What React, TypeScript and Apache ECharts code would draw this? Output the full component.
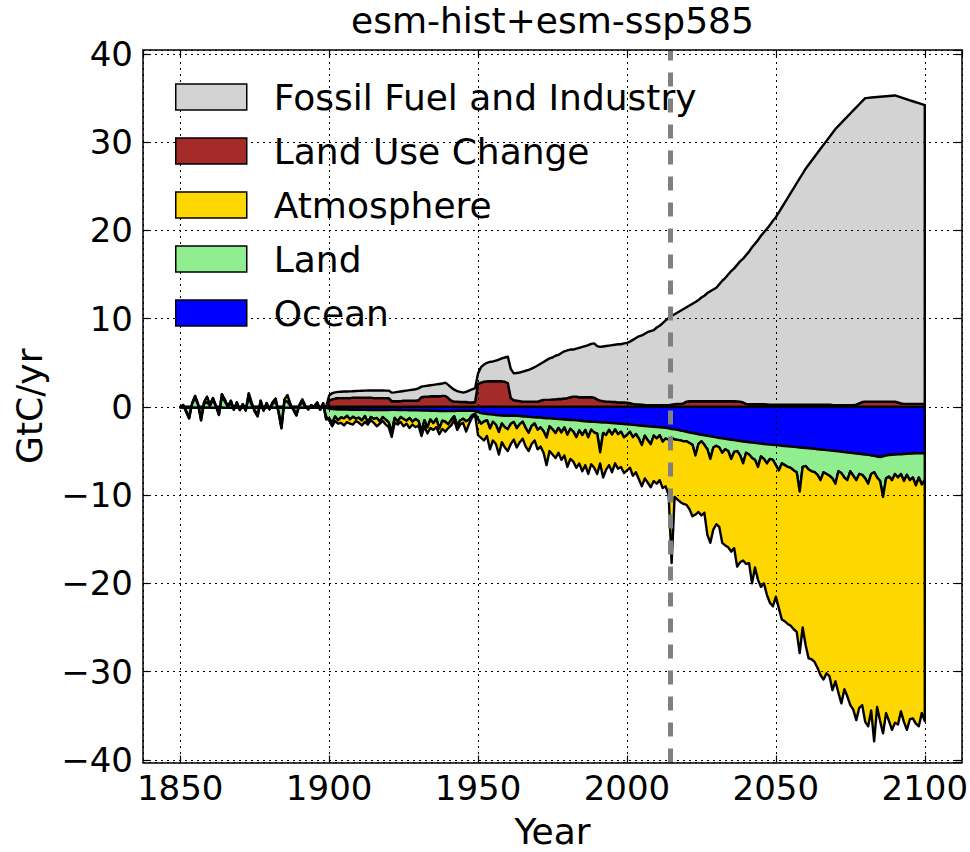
import React, { useEffect, useRef } from "react";
import * as echarts from "echarts";

const FONT = "DejaVu Sans";

const firstYear = 1850;
const lastYear = 2100;
const years: number[] = [];
for (let y = firstYear; y <= lastYear; y++) years.push(y);

const titleText = "esm-hist+esm-ssp585";
const xAxisName = "Year";
const yAxisName = "GtC/yr";
const scenarioStart = 2014.5;

const landUseChange = [
  // 1850-1899
  0, 0, 0, 0, 0, 0, 0, 0, 0, 0,
  0, 0, 0, 0, 0, 0, 0, 0, 0, 0,
  0, 0, 0, 0, 0, 0, 0, 0, 0, 0,
  0, 0, 0, 0, 0, 0, 0, 0, 0, 0,
  0, 0, 0, 0, 0, 0, 0, 0, 0, 0,
  // 1900-1949
  0.7, 0.85, 0.95, 1.0, 1.0, 1.0, 1.0, 1.0, 1.05, 1.05,
  1.05, 1.05, 1.05, 1.05, 1.05, 1.0, 1.0, 1.0, 1.0, 1.0,
  1.0, 0.65, 0.65, 0.65, 0.65, 0.7, 0.7, 0.7, 0.7, 0.7,
  0.75, 1.1, 1.15, 1.15, 1.2, 1.2, 1.2, 1.2, 1.25, 1.25,
  1.0, 0.7, 0.6, 0.6, 0.55, 0.55, 0.55, 0.5, 0.5, 0.55,
  // 1950-1999
  2.6, 2.75, 2.85, 2.9, 2.9, 2.9, 2.9, 2.9, 2.9, 2.85,
  2.7, 1.0, 0.75, 0.7, 0.65, 0.6, 0.6, 0.6, 0.6, 0.6,
  0.6, 0.7, 0.8, 0.8, 0.8, 0.85, 0.85, 0.9, 0.9, 0.95,
  1.0, 1.1, 1.15, 1.15, 1.1, 1.1, 1.1, 1.1, 1.1, 1.05,
  0.85, 0.7, 0.65, 0.6, 0.6, 0.55, 0.55, 0.5, 0.5, 0.5,
  // 2000-2049
  0.48, 0.42, 0.35, 0.3, 0.28, 0.25, 0.22, 0.2, 0.2, 0.2,
  0.2, 0.2, 0.2, 0.2, 0.2, 0.25, 0.3, 0.34, 0.34, 0.4,
  0.6, 0.64, 0.64, 0.64, 0.64, 0.64, 0.64, 0.64, 0.64, 0.64,
  0.64, 0.64, 0.64, 0.64, 0.64, 0.64, 0.64, 0.62, 0.6, 0.5,
  0.34, 0.3, 0.3, 0.3, 0.3, 0.3, 0.3, 0.28, 0.26, 0.26,
  // 2050-2100
  0.26, 0.26, 0.26, 0.26, 0.26, 0.26, 0.26, 0.26, 0.26, 0.26,
  0.26, 0.26, 0.26, 0.26, 0.26, 0.26, 0.26, 0.26, 0.26, 0.22,
  0.2, 0.2, 0.2, 0.2, 0.2, 0.2, 0.2, 0.25, 0.4, 0.55,
  0.6, 0.6, 0.6, 0.6, 0.6, 0.6, 0.6, 0.6, 0.6, 0.6,
  0.6, 0.5, 0.4, 0.34, 0.34, 0.34, 0.34, 0.34, 0.34, 0.34,
  0.34,
];

const fossilFuel = [
  // 1850-1899
  0, 0, 0, 0, 0, 0, 0, 0, 0, 0,
  0, 0, 0, 0, 0, 0, 0, 0, 0, 0,
  0, 0, 0, 0, 0, 0, 0, 0, 0, 0,
  0, 0, 0, 0, 0, 0, 0, 0, 0, 0,
  0, 0, 0, 0, 0, 0, 0, 0, 0, 0,
  // 1900-1949
  0.6, 0.7, 0.7, 0.7, 0.72, 0.74, 0.75, 0.76, 0.73, 0.75,
  0.77, 0.79, 0.8, 0.81, 0.81, 0.86, 0.86, 0.86, 0.86, 0.85,
  0.85, 0.97, 1.0, 1.05, 1.1, 1.1, 1.15, 1.2, 1.25, 1.3,
  1.35, 1.2, 1.2, 1.25, 1.25, 1.3, 1.35, 1.4, 1.4, 1.5,
  1.5, 1.5, 1.35, 1.2, 1.15, 1.07, 1.15, 1.35, 1.5, 1.55,
  // 1950-1999
  1.2, 1.75, 1.95, 2.1, 2.2, 2.25, 2.35, 2.45, 2.6, 2.75,
  3.0, 3.3, 3.05, 3.15, 3.25, 3.4, 3.5, 3.6, 3.75, 3.9,
  4.1, 4.2, 4.3, 4.5, 4.7, 4.75, 4.95, 5.0, 5.2, 5.35,
  5.4, 5.4, 5.35, 5.45, 5.6, 5.7, 5.8, 5.9, 6.05, 6.15,
  6.05, 6.1, 6.2, 6.3, 6.35, 6.45, 6.5, 6.6, 6.6, 6.7,
  // 2000-2049
  6.77, 6.98, 7.25, 7.5, 7.72, 7.85, 8.08, 8.3, 8.4, 8.5,
  8.8, 9.0, 9.3, 9.6, 9.9, 10.05, 10.2, 10.36, 10.56, 10.7,
  10.7, 10.86, 11.06, 11.26, 11.46, 11.76, 11.96, 12.26, 12.46, 12.66,
  12.86, 13.26, 13.66, 13.96, 14.36, 14.76, 15.06, 15.48, 15.9, 16.3,
  16.86, 17.3, 17.8, 18.2, 18.6, 19.1, 19.5, 19.92, 20.34, 20.84,
  // 2050-2100
  21.24, 21.79, 22.34, 22.89, 23.44, 23.99, 24.54, 25.09, 25.64, 26.19,
  26.74, 27.19, 27.64, 28.09, 28.54, 28.99, 29.44, 29.89, 30.34, 30.83,
  31.3, 31.65, 32.0, 32.35, 32.7, 33.05, 33.4, 33.7, 33.9, 34.1,
  34.4, 34.43, 34.46, 34.49, 34.52, 34.55, 34.58, 34.61, 34.64, 34.67,
  34.7, 34.69, 34.68, 34.63, 34.52, 34.41, 34.3, 34.19, 34.08, 33.97,
  33.86,
];

const ocean = [
  // 1850-1899
  -0.05, -0.08, -0.06, -0.1, -0.07, -0.05, -0.09, -0.12, -0.08, -0.06,
  -0.07, -0.1, -0.08, -0.11, -0.06, -0.09, -0.07, -0.1, -0.12, -0.08,
  -0.06, -0.09, -0.11, -0.07, -0.08, -0.1, -0.06, -0.09, -0.12, -0.07,
  -0.08, -0.1, -0.06, -0.09, -0.11, -0.07, -0.08, -0.1, -0.12, -0.06,
  -0.09, -0.07, -0.1, -0.08, -0.11, -0.06, -0.09, -0.12, -0.08, -0.1,
  // 1900-1949
  -0.2, -0.25, -0.28, -0.3, -0.3, -0.31, -0.31, -0.32, -0.32, -0.33,
  -0.33, -0.34, -0.34, -0.35, -0.35, -0.35, -0.35, -0.35, -0.35, -0.35,
  -0.35, -0.34, -0.34, -0.35, -0.35, -0.36, -0.36, -0.37, -0.37, -0.38,
  -0.39, -0.4, -0.41, -0.42, -0.43, -0.44, -0.45, -0.46, -0.47, -0.48,
  -0.48, -0.47, -0.46, -0.45, -0.44, -0.43, -0.43, -0.44, -0.45, -0.47,
  // 1950-1999
  -0.6, -0.7, -0.76, -0.8, -0.84, -0.88, -0.92, -0.95, -0.98, -1.0,
  -1.02, -1.02, -1.0, -1.02, -1.05, -1.08, -1.1, -1.13, -1.16, -1.18,
  -1.2, -1.22, -1.25, -1.28, -1.3, -1.33, -1.36, -1.38, -1.4, -1.43,
  -1.46, -1.48, -1.5, -1.53, -1.56, -1.59, -1.62, -1.65, -1.68, -1.7,
  -1.72, -1.74, -1.76, -1.78, -1.8, -1.83, -1.86, -1.89, -1.92, -1.95,
  // 2000-2049
  -1.98, -2.01, -2.04, -2.07, -2.1, -2.13, -2.16, -2.19, -2.22, -2.25,
  -2.28, -2.31, -2.34, -2.38, -2.42, -2.5, -2.55, -2.6, -2.68, -2.75,
  -2.82, -2.9, -2.96, -3.02, -3.1, -3.16, -3.22, -3.28, -3.34, -3.4,
  -3.46, -3.52, -3.57, -3.62, -3.67, -3.72, -3.77, -3.82, -3.87, -3.92,
  -3.96, -4.0, -4.04, -4.08, -4.12, -4.16, -4.2, -4.24, -4.27, -4.3,
  // 2050-2100
  -4.33, -4.36, -4.4, -4.43, -4.46, -4.5, -4.53, -4.56, -4.6, -4.63,
  -4.66, -4.69, -4.72, -4.76, -4.8, -4.83, -4.86, -4.9, -4.93, -4.97,
  -5.0, -5.04, -5.08, -5.12, -5.16, -5.2, -5.24, -5.28, -5.32, -5.36,
  -5.4, -5.44, -5.5, -5.55, -5.62, -5.7, -5.6, -5.5, -5.45, -5.42,
  -5.4, -5.38, -5.36, -5.34, -5.32, -5.3, -5.28, -5.27, -5.26, -5.25,
  -5.25,
];

const land = [
  // 1850-1899
  0, 0.3, -0.5, -1.2, 0.5, 1.3, 0.4, -1.4, 0.6, 1.2,
  0.3, 1.1, 0.2, -0.8, 1.5, 0.9, 0.1, 0.8, -0.2, 0.6,
  -0.3, 0.4, -0.3, 1.6, 0.5, -0.4, -1.0, 0.8, -0.3, 0.5,
  -0.2, 0.6, 1.0, -0.5, -2.3, 0.9, 1.4, 0.4, -0.2, -0.9,
  0.3, 0.9, 0.2, -0.2, 0.3, 0.1, 0.6, -0.2, 0.5, -1.3,
  // 1900-1949
  -1.1, -1.6, -0.8, -1.2, -0.9, -1.0, -0.7, -1.1, -0.8, -1.0,
  -0.9, -1.2, -0.7, -1.4, -0.8, -1.0, -0.9, -1.3, -0.8, -1.1,
  -1.4, -2.6, -0.9, -1.3, -0.8, -1.0, -1.2, -0.9, -1.3, -1.0,
  -1.2, -2.4, -1.1, -1.9, -1.0, -1.4, -0.9, -2.0, -1.1, -1.2,
  -1.5, -1.0, -0.6, -1.6, -1.1, -0.9, -1.2, -1.0, -0.5, -0.3,
  // 1950-2014
  -0.8, -1.2, -0.9, -0.7, -1.6, -0.8, -1.1, -1.9, -0.9, -1.3,
  -1.5, -0.9, -0.7, -1.4, -0.9, -0.6, -1.3, -1.8, -1.0, -0.7,
  -1.4, -1.1, -1.5, -2.2, -0.9, -1.2, -1.6, -1.0, -1.5, -0.9,
  -1.7, -1.0, -1.3, -1.9, -1.1, -1.6, -1.0, -1.8, -0.9, -1.2,
  -1.3, -3.4, -1.2, -1.4, -0.8, -1.3, -0.7, -1.2, -0.9, -1.5,
  -1.2, -0.8, -1.4, -1.0, -1.5, -2.2, -1.1, -1.6, -2.0, -1.0,
  -1.3, -0.9, -1.6, -1.2, -1.3,
  // 2015-2100
  -1.0, -1.15, -1.14, -1.12, -1.15, -1.08, -1.2, -1.34, -2.48, -1.1,
  -0.74, -1.08, -1.52, -2.56, -1.2, -0.94, -1.08, -1.63, -1.18, -1.33,
  -2.18, -1.33, -1.18, -1.63, -2.48, -1.24, -1.4, -1.76, -1.92, -2.68,
  -1.44, -1.7, -2.16, -1.63, -1.7, -2.27, -2.84, -2.0, -2.17, -2.34,
  -2.4, -2.67, -2.84, -5.0, -2.17, -2.04, -2.41, -2.58, -2.64, -2.9,
  -3.47, -2.54, -2.7, -2.87, -3.13, -3.7, -2.26, -2.42, -2.88, -3.14,
  -2.1, -2.56, -3.02, -2.28, -2.34, -2.7, -3.26, -2.1, -1.85, -2.38,
  -2.7, -4.6, -2.6, -2.45, -2.88, -2.2, -2.62, -2.24, -3.06, -2.38,
  -3.0, -2.72, -3.63, -2.74, -3.55, -3.05,
];

const atmosphere = [
  // 1850-1899
  0, -0.1, 0.1, 0.2, -0.1, -0.2, -0.1, 0.2, -0.2, -0.6,
  -0.1, -0.2, -0.1, 0.1, -0.3, -0.2, 0, -0.3, 0.1, -0.4,
  0.1, -0.2, 0.1, -0.5, -0.2, 0.1, 0.2, -0.2, 0.1, -0.2,
  0.1, -0.2, -0.3, 0.1, 0.3, -0.2, -0.7, -0.2, 0.1, 0.2,
  -0.1, -0.3, -0.1, 0.1, -0.1, 0, -0.4, 0.1, -0.2, 0.3,
  // 1900-1949
  -0.2, -0.35, -0.52, -0.4, -0.6, -0.79, -0.69, -0.48, -0.88, -0.27,
  -0.57, -0.56, -0.66, -0.25, -0.35, -0.45, -0.95, -0.25, -0.45, -0.55,
  -0.55, -0.46, -0.56, -0.35, -0.55, -0.84, -0.34, -1.13, -0.33, -0.92,
  -0.51, -0.5, -0.69, -0.68, -0.97, -0.76, -0.95, -0.64, -0.93, -1.12,
  -0.42, -0.63, -0.44, -0.55, -0.46, -0.47, -1.17, -0.46, -0.25, -0.13,
  // 1950-2014
  -1.8, -1.6, -2.14, -1.8, -2.36, -2.12, -2.18, -2.55, -2.12, -2.3,
  -2.48, -2.28, -2.0, -2.18, -2.05, -1.92, -2.1, -2.07, -2.04, -1.92,
  -2.2, -2.18, -2.45, -3.12, -2.8, -2.87, -2.84, -2.82, -3.1, -3.17,
  -3.64, -3.42, -3.4, -3.47, -3.74, -4.11, -3.98, -4.15, -3.92, -4.0,
  -4.58, -1.26, -5.04, -3.92, -4.0, -4.27, -3.84, -3.91, -3.98, -4.05,
  -4.02, -4.09, -4.36, -4.33, -4.6, -4.67, -4.84, -4.81, -4.88, -5.15,
  -5.12, -5.09, -5.26, -5.42, -6.28,
  // 2015-2100
  -14.2, -6.5, -6.76, -7.0, -7.1, -7.2, -7.5, -8.1, -6.7, -7.7,
  -8.4, -7.7, -9.7, -9.5, -9.3, -8.9, -9.0, -10.2, -10.9, -10.9,
  -10.5, -10.9, -13.1, -12.1, -11.0, -12.6, -12.3, -14.2, -12.2, -12.8,
  -14.8, -14.1, -14.9, -16.3, -16.6, -14.9, -15.6, -17.7, -17.7, -17.8,
  -17.9, -18.0, -18.1, -18.3, -18.2, -20.3, -21.4, -21.3, -21.5, -21.9,
  -22.1, -23.5, -22.6, -22.7, -24.0, -22.4, -25.1, -26.1, -24.0, -24.5,
  -26.5, -26.5, -27.2, -26.5, -26.1, -27.6, -27.5, -26.8, -30.5, -26.0,
  -27.2, -26.8, -26.6, -27.7, -28.3, -28.2, -28.0, -26.9, -27.3, -28.9,
  -27.1, -27.3, -27.0, -28.2, -25.9, -27.3,
];

const legendOrder = ["Fossil Fuel and Industry", "Land Use Change", "Atmosphere", "Land", "Ocean"];

const minus = (v: number) => (v < 0 ? "\u2212" + Math.abs(v) : String(v));

export default function App() {
  const ref = useRef<HTMLDivElement>(null);

  useEffect(() => {
    if (!ref.current) return;
    const chart = echarts.init(ref.current, null, { renderer: "svg" });

    // cumulative band edges, built from the component arrays
    const zeroEdge = years.map(() => 0);
    const lucEdge = years.map((_, i) => landUseChange[i]);
    const ffEdge = years.map((_, i) => landUseChange[i] + fossilFuel[i]);
    const oceanEdge = years.map((_, i) => ocean[i]);
    const landEdge = years.map((_, i) => ocean[i] + land[i]);
    const atmEdge = years.map((_, i) => ocean[i] + land[i] + atmosphere[i]);

    const bands = [
      { name: "Land Use Change", color: "#a52a2a", a: lucEdge, b: zeroEdge },
      { name: "Fossil Fuel and Industry", color: "#d3d3d3", a: ffEdge, b: lucEdge },
      { name: "Ocean", color: "#0000ff", a: zeroEdge, b: oceanEdge },
      { name: "Land", color: "#90ee90", a: oceanEdge, b: landEdge },
      { name: "Atmosphere", color: "#ffd700", a: landEdge, b: atmEdge },
    ];

    const bandSeries = bands.map((band, k) => ({
      type: "custom",
      name: band.name,
      coordinateSystem: "cartesian2d",
      xAxisIndex: 0,
      yAxisIndex: 0,
      data: [[years[0], 0]],
      silent: true,
      z: 2 + k * 0.01,
      itemStyle: { color: band.color },
      renderItem: (_params: any, api: any) => {
        const pts: number[][] = [];
        for (let i = 0; i < years.length; i++) pts.push(api.coord([years[i], band.a[i]]));
        for (let i = years.length - 1; i >= 0; i--) pts.push(api.coord([years[i], band.b[i]]));
        return {
          type: "polygon",
          shape: { points: pts },
          style: { fill: band.color, stroke: "#000", lineWidth: 2.4, lineJoin: "round" },
        };
      },
    }));

    const axisLine = { show: true, onZero: false, lineStyle: { color: "#000", width: 1.5 } };
    const axisTick = { show: true, inside: true, length: 7, lineStyle: { color: "#000", width: 1.2 } };
    const splitLine = { show: true, lineStyle: { color: "#000", width: 1, type: [2, 4] } };
    const labelStyle = { fontSize: 34, fontFamily: FONT, color: "#000" };

    chart.setOption({
      animation: false,
      textStyle: { fontFamily: FONT },
      title: {
        text: titleText,
        left: 351,
        top: 2,
        padding: 0,
        textStyle: { fontSize: 36, fontFamily: FONT, fontWeight: "normal", color: "#000" },
      },
      legend: {
        data: legendOrder,
        orient: "vertical",
        left: 175,
        top: 77,
        padding: 0,
        itemGap: 14,
        itemWidth: 71,
        itemHeight: 26,
        icon: "rect",
        selectedMode: false,
        z: 6,
        itemStyle: { borderColor: "#000", borderWidth: 1.5 },
        textStyle: { fontSize: 36, fontFamily: FONT, color: "#000", lineHeight: 40, padding: [0, 0, 0, 22] },
      },
      grid: { left: 143, right: 8, top: 50, bottom: 89.5, outerBoundsMode: "none" },
      xAxis: [
        {
          type: "value",
          min: 1837.5,
          max: 2112.5,
          splitNumber: 5,
          position: "bottom",
          z: 5,
          axisLine,
          axisTick,
          splitLine,
          axisLabel: { ...labelStyle, margin: 8, showMinLabel: false, showMaxLabel: false, formatter: (v: number) => String(v) },
          name: xAxisName,
          nameLocation: "middle",
          nameGap: 51,
          nameTextStyle: { fontSize: 36, fontFamily: FONT, color: "#000" },
        },
        {
          type: "value",
          min: 1837.5,
          max: 2112.5,
          splitNumber: 5,
          position: "top",
          z: 5,
          axisLine,
          axisTick,
          splitLine: { show: false },
          axisLabel: { show: false },
        },
      ],
      yAxis: [
        {
          type: "value",
          min: -40.3,
          max: 40.45,
          splitNumber: 8,
          position: "left",
          z: 5,
          axisLine,
          axisTick,
          splitLine,
          axisLabel: { ...labelStyle, margin: 10, showMinLabel: false, showMaxLabel: false, formatter: minus },
          name: yAxisName,
          nameLocation: "middle",
          nameRotate: 90,
          nameGap: 96,
          nameTextStyle: { fontSize: 36, fontFamily: FONT, color: "#000" },
        },
        {
          type: "value",
          min: -40.3,
          max: 40.45,
          splitNumber: 8,
          position: "right",
          z: 5,
          axisLine,
          axisTick,
          splitLine: { show: false },
          axisLabel: { show: false },
        },
      ],
      series: [
        ...bandSeries,
        {
          type: "line",
          name: "scenario",
          data: [[scenarioStart, 0]],
          symbol: "none",
          silent: true,
          z: 4,
          lineStyle: { opacity: 0 },
          markLine: {
            silent: true,
            symbol: ["none", "none"],
            label: { show: false },
            lineStyle: { color: "#808080", width: 5, type: [14, 12] },
            data: [{ xAxis: scenarioStart }],
          },
        },
      ],
    });
    return () => chart.dispose();
  }, []);

  return (
    <div
      ref={ref}
      style={{ position: "absolute", left: 0, top: 0, width: 970, height: 852, background: "#fff" }}
    />
  );
}
